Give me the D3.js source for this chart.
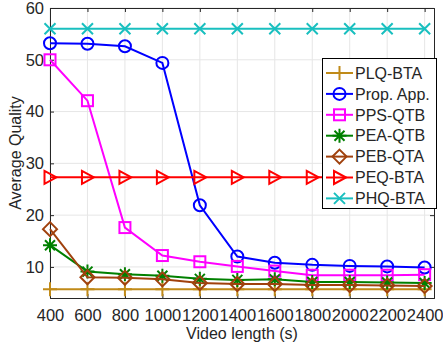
<!DOCTYPE html>
<html><head><meta charset="utf-8">
<script src="https://cdn.jsdelivr.net/npm/d3@7"></script>
<style>body{margin:0;background:#fff}text{font-family:"Liberation Sans",Arial,Helvetica,sans-serif;fill:#262626}</style>
</head><body><svg id="c" width="443" height="343"></svg>
<script>
const videoLength = [400,600,800,1000,1200,1400,1600,1800,2000,2200,2400];
const xTicks = [400,600,800,1000,1200,1400,1600,1800,2000,2200,2400];
const yTicks = [10,20,30,40,50,60];
const seriesNames = ["PLQ-BTA","Prop. App.","PPS-QTB","PEA-QTB","PEB-QTA","PEQ-BTA","PHQ-BTA"];
const plqBTA = [5.7,5.7,5.7,5.7,5.7,5.7,5.7,5.7,5.7,5.7,5.7];
const propApp = [53.2,53.1,52.6,49.4,21.9,12.0,10.8,10.4,10.2,10.1,9.9];
const ppsQTB = [50.0,42.1,17.6,12.2,11.0,10.1,9.2,8.4,8.4,8.4,8.5];
const peaQTB = [14.2,9.1,8.6,8.3,7.7,7.5,7.6,7.1,7.1,7.0,6.9];
const pebQTA = [17.3,8.0,7.9,7.6,6.9,6.7,6.7,6.5,6.5,6.4,6.3];
const peqBTA = [27.3,27.3,27.3,27.3,27.3,27.3,27.3,27.3,27.3,27.3,27.3];
const phqBTA = [56.0,56.0,56.0,56.0,56.0,56.0,56.0,56.0,56.0,56.0,56.0];

const series = [
  {name:seriesNames[0], values:plqBTA, color:"#C08A18", marker:"plus"},
  {name:seriesNames[1], values:propApp, color:"#0000FF", marker:"circle"},
  {name:seriesNames[2], values:ppsQTB, color:"#FF00FF", marker:"square"},
  {name:seriesNames[3], values:peaQTB, color:"#008000", marker:"star"},
  {name:seriesNames[4], values:pebQTA, color:"#A0410D", marker:"diamond"},
  {name:seriesNames[5], values:peqBTA, color:"#FF0000", marker:"triangle"},
  {name:seriesNames[6], values:phqBTA, color:"#19BFBF", marker:"x"}
];

const svg = d3.select("#c");
const L=50,R=434,T=8,B=298;
const x = d3.scaleLinear().domain([400,2450]).range([L,R]);
const y = d3.scaleLinear().domain([4,60]).range([B,T]);

// grid
const g = svg.append("g");
g.selectAll(".gx").data(xTicks).enter().append("line")
  .attr("x1",d=>x(d)).attr("x2",d=>x(d)).attr("y1",T).attr("y2",B)
  .attr("stroke","#e6e6e6").attr("stroke-width",1);
g.selectAll(".gy").data(yTicks).enter().append("line")
  .attr("x1",L).attr("x2",R).attr("y1",d=>y(d)).attr("y2",d=>y(d))
  .attr("stroke","#e6e6e6").attr("stroke-width",1);

// axes
const axB = d3.axisBottom(x).tickValues(xTicks).tickSize(-4).tickPadding(11).tickFormat(d3.format("d"));
const axL = d3.axisLeft(y).tickValues(yTicks).tickSize(-4).tickPadding(6);
const axT = d3.axisTop(x).tickValues(xTicks).tickSize(-4).tickFormat("");
const axR = d3.axisRight(y).tickValues(yTicks).tickSize(-4).tickFormat("");
function style(sel){
  sel.selectAll("path").attr("stroke","#262626").attr("stroke-width",1);
  sel.selectAll("line").attr("stroke","#262626");
  sel.selectAll("text").style("font-size","16.5px").attr("fill","#262626");
}
svg.append("g").attr("transform",`translate(0,${B})`).call(axB).call(style);
svg.append("g").attr("transform",`translate(${L},0)`).call(axL).call(style);
svg.append("g").attr("transform",`translate(0,${T})`).call(axT).call(style);
svg.append("g").attr("transform",`translate(${R},0)`).call(axR).call(style);

// labels
svg.append("text").attr("x",(L+R)/2).attr("y",339).attr("text-anchor","middle").style("font-size","16px").text("Video length (s)");
svg.append("text").attr("transform",`translate(21,${(T+B)/2}) rotate(-90)`).attr("text-anchor","middle").style("font-size","16px").text("Average Quality");

function drawMarker(sel, type, color, cx, cy){
  const s = sel.append("g").attr("transform",`translate(${cx},${cy})`);
  const st = {stroke:color,"stroke-width":2,fill:"none"};
  const ap = (e)=>{for(const k in st) e.attr(k,st[k]); return e;};
  if(type==="circle") ap(s.append("circle").attr("r",6));
  else if(type==="square") ap(s.append("rect").attr("x",-5.5).attr("y",-5.5).attr("width",11).attr("height",11));
  else if(type==="diamond") ap(s.append("path").attr("d","M0,-7L7,0L0,7L-7,0Z"));
  else if(type==="triangle") ap(s.append("path").attr("d","M6.5,0L-5.5,-6.5L-5.5,6.5Z"));
  else if(type==="plus") ap(s.append("path").attr("d","M-7,0H7M0,-7V7"));
  else if(type==="x") ap(s.append("path").attr("d","M-5.5,-5.5L5.5,5.5M-5.5,5.5L5.5,-5.5"));
  else if(type==="star") ap(s.append("path").attr("d","M-7,0H7M0,-7V7M-5,-5L5,5M-5,5L5,-5"));
}

const line = d3.line().x((d,i)=>x(videoLength[i])).y(d=>y(d));
series.forEach(s=>{
  svg.append("path").datum(s.values).attr("d",line).attr("fill","none").attr("stroke",s.color).attr("stroke-width",2);
  const mg = svg.append("g");
  s.values.forEach((v,i)=>drawMarker(mg,s.marker,s.color,x(videoLength[i]),y(v)));
});

// legend
const lg = svg.append("g");
lg.append("rect").attr("x",322.5).attr("y",58.5).attr("width",114).attr("height",150).attr("fill","#fff").attr("stroke","#000").attr("stroke-width",1);
series.forEach((s,i)=>{
  const yy = 73 + i*20.9;
  lg.append("line").attr("x1",326).attr("x2",353).attr("y1",yy).attr("y2",yy).attr("stroke",s.color).attr("stroke-width",2);
  drawMarker(lg,s.marker,s.color,339.5,yy);
  lg.append("text").attr("x",355).attr("y",yy).attr("dy","0.36em").style("font-size","16px").text(s.name);
});
</script></body></html>
